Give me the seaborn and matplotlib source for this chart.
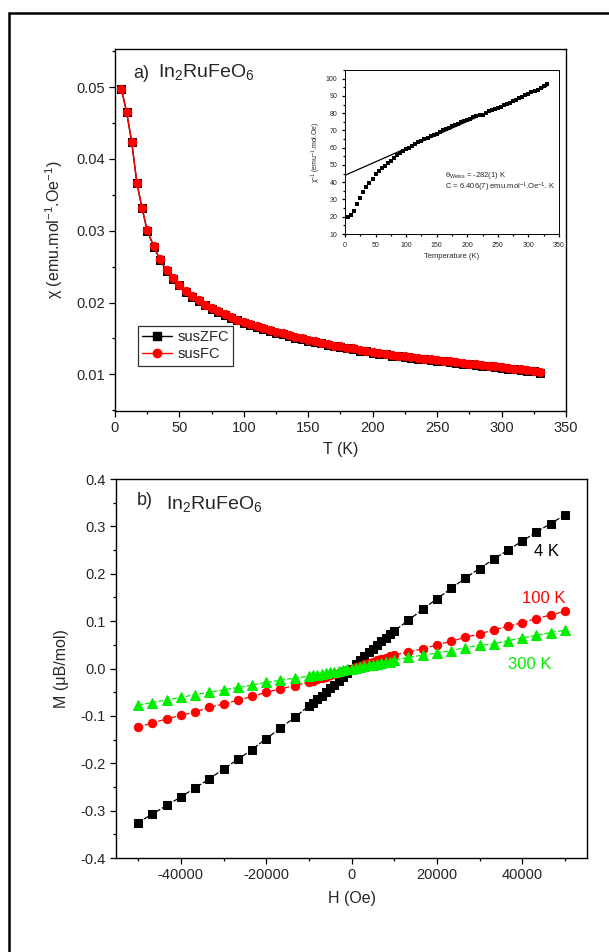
import numpy as np
import pandas as pd
import seaborn as sns
import matplotlib.pyplot as plt
from matplotlib.lines import Line2D
from matplotlib.ticker import MultipleLocator

# panel a) susceptibility vs temperature
temp = [5, 9, 13, 17, 21, 25, 30, 35, 40, 45, 50, 55, 60, 65, 70, 75, 80, 85, 90, 95,
        100, 105, 110, 115, 120, 125, 130, 135, 140, 145, 150, 155, 160, 165, 170, 175,
        180, 185, 190, 195, 200, 205, 210, 215, 220, 225, 230, 235, 240, 245, 250, 255,
        260, 265, 270, 275, 280, 285, 290, 295, 300, 305, 310, 315, 320, 325, 330]
sus_fc = [0.0497, 0.0466, 0.0424, 0.0367, 0.0332, 0.0301, 0.0279, 0.0260, 0.0245, 0.0234,
          0.0225, 0.0216, 0.0209, 0.0203, 0.0197, 0.0192, 0.0188, 0.0184, 0.0180, 0.0176,
          0.0173, 0.0170, 0.0167, 0.0164, 0.0162, 0.0159, 0.0157, 0.0155, 0.0152, 0.0150,
          0.0148, 0.0146, 0.0144, 0.0142, 0.0140, 0.0139, 0.0137, 0.0136, 0.0134, 0.0133,
          0.0131, 0.0130, 0.0129, 0.0127, 0.0126, 0.0125, 0.0124, 0.0123, 0.0122, 0.0121,
          0.0120, 0.0119, 0.0118, 0.0117, 0.0116, 0.0115, 0.0114, 0.0113, 0.0112, 0.0111,
          0.0110, 0.0109, 0.0108, 0.0107, 0.0106, 0.0105, 0.0103]
sus_zfc = [0.0497, 0.0465, 0.0423, 0.0366, 0.0331, 0.0300, 0.0278, 0.0259, 0.0244, 0.0233,
           0.0224, 0.0215, 0.0208, 0.0202, 0.0196, 0.0191, 0.0187, 0.0183, 0.0179, 0.0175,
           0.0172, 0.0169, 0.0166, 0.0163, 0.0161, 0.0158, 0.0156, 0.0154, 0.0151, 0.0149,
           0.0147, 0.0145, 0.0143, 0.0141, 0.0139, 0.0138, 0.0136, 0.0135, 0.0133, 0.0132,
           0.0130, 0.0129, 0.0128, 0.0126, 0.0125, 0.0124, 0.0123, 0.0122, 0.0121, 0.0120,
           0.0119, 0.0118, 0.0117, 0.0116, 0.0115, 0.0114, 0.0113, 0.0112, 0.0111, 0.0110,
           0.0109, 0.0108, 0.0107, 0.0106, 0.0105, 0.0104, 0.0102]

# inset: inverse susceptibility + Curie-Weiss line
inv_temp = [5, 10, 15, 20, 25, 30, 35, 40, 45, 50, 55, 60, 65, 70, 75, 80, 85, 90, 95, 100,
            105, 110, 115, 120, 125, 130, 135, 140, 145, 150, 155, 160, 165, 170, 175, 180,
            185, 190, 195, 200, 205, 210, 215, 220, 225, 230, 235, 240, 245, 250, 255, 260,
            265, 270, 275, 280, 285, 290, 295, 300, 305, 310, 315, 320, 325, 330]
inv_chi = [20.0, 21.0, 23.5, 27.5, 31.0, 34.5, 37.0, 39.5, 42.0, 44.5, 46.5, 48.0, 49.5,
           51.0, 52.5, 54.0, 55.5, 57.0, 58.0, 59.0, 60.0, 61.0, 62.0, 63.0, 64.0, 65.0,
           65.8, 66.5, 67.3, 68.0, 69.0, 70.0, 70.8, 71.5, 72.5, 73.0, 73.8, 74.8, 75.5,
           76.0, 76.8, 77.5, 78.3, 79.0, 78.8, 80.0, 81.0, 81.7, 82.3, 83.0, 83.8, 84.5,
           85.3, 86.0, 87.0, 87.8, 88.5, 89.5, 90.3, 91.0, 92.0, 92.7, 93.5, 94.3, 95.5, 97.0]
fit_temp = [0, 330]
fit_inv = [44.0, 95.5]

# panel b) magnetisation vs field
field = [-50000, -46667, -43333, -40000, -36667, -33333, -30000, -26667, -23333, -20000,
         -16667, -13333, -10000, -9000, -8000, -7000, -6000, -5000, -4000, -3000, -2000,
         -1000, 0, 1000, 2000, 3000, 4000, 5000, 6000, 7000, 8000, 9000, 10000, 13333,
         16667, 20000, 23333, 26667, 30000, 33333, 36667, 40000, 43333, 46667, 50000]
m_4k = [-0.325, -0.307, -0.289, -0.271, -0.252, -0.233, -0.212, -0.192, -0.171, -0.148,
        -0.126, -0.103, -0.079, -0.072, -0.065, -0.058, -0.050, -0.042, -0.034, -0.026,
        -0.017, -0.009, 0.000, 0.009, 0.017, 0.026, 0.034, 0.042, 0.050, 0.058, 0.065,
        0.072, 0.079, 0.102, 0.125, 0.147, 0.169, 0.191, 0.211, 0.231, 0.250, 0.269,
        0.288, 0.306, 0.324]
m_100k = [-0.123, -0.115, -0.106, -0.099, -0.0915, -0.082, -0.0745, -0.067, -0.059, -0.050,
          -0.043, -0.036, -0.029, -0.026, -0.023, -0.020, -0.017, -0.0145, -0.012, -0.009,
          -0.006, -0.003, 0.000, 0.003, 0.006, 0.009, 0.012, 0.0145, 0.017, 0.020, 0.023,
          0.026, 0.029, 0.0347, 0.0417, 0.050, 0.0574, 0.066, 0.073, 0.082, 0.089, 0.097,
          0.1055, 0.113, 0.121]
m_300k = [-0.077, -0.072, -0.066, -0.061, -0.055, -0.050, -0.045, -0.040, -0.035, -0.029,
          -0.025, -0.020, -0.016, -0.0145, -0.013, -0.011, -0.0095, -0.008, -0.0065, -0.005,
          -0.003, -0.0015, 0.000, 0.0015, 0.003, 0.005, 0.0065, 0.008, 0.0095, 0.011, 0.013,
          0.0145, 0.017, 0.024, 0.028, 0.033, 0.038, 0.044, 0.049, 0.052, 0.059, 0.0645,
          0.070, 0.076, 0.081]

sns.set_style('ticks')
plt.rcParams['font.family'] = ['Liberation Sans', 'DejaVu Sans']
plt.rcParams['mathtext.fontset'] = 'custom'
plt.rcParams['mathtext.rm'] = 'Liberation Sans'
plt.rcParams['mathtext.it'] = 'Liberation Sans:italic'
plt.rcParams['mathtext.default'] = 'regular'
plt.rcParams['axes.unicode_minus'] = False

fig = plt.figure(figsize=(6.09, 9.52), dpi=100)
ax1 = fig.add_axes([0.1888, 0.5683, 0.7406, 0.3802])
ax2 = fig.add_axes([0.1905, 0.0987, 0.7734, 0.3981])
ins = fig.add_axes([0.5665, 0.7542, 0.3514, 0.1723])


def style_axes(ax, size=10, major=4, minor=2.5):
    for s in ax.spines.values():
        s.set_visible(True)
        s.set_color('black')
        s.set_linewidth(1.0)
    ax.tick_params(which='both', direction='out', top=False, right=False,
                   labelsize=size, color='black', width=0.9)
    ax.tick_params(which='major', length=major)
    ax.tick_params(which='minor', length=minor)


# a) chi(T)
sns.lineplot(x=temp, y=sus_zfc, ax=ax1, color='black', marker='s', markersize=5.5,
             markeredgecolor='black', linewidth=1.0, sort=False, estimator=None)
sns.lineplot(x=temp, y=sus_fc, ax=ax1, color='red', marker='o', markersize=6,
             markeredgecolor='red', linewidth=1.0, sort=False, estimator=None)
ax1.set_xlim(0, 350)
ax1.set_ylim(0.0049, 0.0553)
ax1.xaxis.set_major_locator(MultipleLocator(50))
ax1.xaxis.set_minor_locator(MultipleLocator(25))
ax1.yaxis.set_major_locator(MultipleLocator(0.01))
ax1.yaxis.set_minor_locator(MultipleLocator(0.005))
ax1.yaxis.set_major_formatter(plt.FormatStrFormatter('%.2f'))
style_axes(ax1, size=10.5)
ax1.set_xlabel('T (K)', fontsize=11.5, labelpad=5)
ax1.set_ylabel('χ (emu.mol$^{-1}$.Oe$^{-1}$)', fontsize=11.5, labelpad=8)
ax1.text(0.04, 0.955, 'a)', transform=ax1.transAxes, fontsize=13, va='top')
ax1.text(0.095, 0.965, 'In$_2$RuFeO$_6$', transform=ax1.transAxes, fontsize=14, va='top')
handles = [Line2D([], [], color='black', marker='s', markersize=5.5, linewidth=1.0),
           Line2D([], [], color='red', marker='o', markersize=6, linewidth=1.0)]
leg = ax1.legend(handles, ['susZFC', 'susFC'], loc='lower left',
                 bbox_to_anchor=(0.035, 0.105), fontsize=10.5, frameon=True,
                 fancybox=False, edgecolor='black', handlelength=2.0,
                 borderpad=0.3, labelspacing=0.2, handletextpad=0.4)
leg.get_frame().set_linewidth(0.9)

# inset
sns.lineplot(x=fit_temp, y=fit_inv, ax=ins, color='black', linewidth=0.9,
             sort=False, estimator=None)
sns.lineplot(x=inv_temp, y=inv_chi, ax=ins, color='black', marker='s', markersize=3,
             linewidth=0, markeredgewidth=0, sort=False, estimator=None)
ins.set_xlim(0, 350)
ins.set_ylim(10, 105)
ins.xaxis.set_major_locator(MultipleLocator(50))
ins.xaxis.set_minor_locator(MultipleLocator(25))
ins.yaxis.set_major_locator(MultipleLocator(10))
ins.yaxis.set_minor_locator(MultipleLocator(5))
style_axes(ins, size=5, major=2, minor=1.2)
for s in ins.spines.values():
    s.set_linewidth(0.7)
ins.set_xlabel('Temperature (K)', fontsize=5.5, labelpad=3)
ins.set_ylabel('χ$^{-1}$ (emu$^{-1}$.mol.Oe)', fontsize=5, labelpad=2)
ins.text(0.465, 0.35, 'θ$_{Weiss}$ = -282(1) K', transform=ins.transAxes, fontsize=5.5)
ins.text(0.465, 0.27, 'C = 6.406(7) emu.mol$^{-1}$.Oe$^{-1}$. K', transform=ins.transAxes,
         fontsize=5.5)

# b) M(H)
sns.lineplot(x=field, y=m_4k, ax=ax2, color='black', marker='s', markersize=5.5,
             markeredgecolor='black', linewidth=0.9, linestyle=(0, (4, 1.5)),
             sort=False, estimator=None)
sns.lineplot(x=field, y=m_100k, ax=ax2, color='red', marker='o', markersize=6,
             markeredgecolor='red', linewidth=0.9, linestyle=(0, (4, 1.5)),
             sort=False, estimator=None)
sns.lineplot(x=field, y=m_300k, ax=ax2, color='#00ee00', marker='^', markersize=6.5,
             markeredgecolor='#00ee00', linewidth=0.9, linestyle=(0, (4, 1.5)),
             sort=False, estimator=None)
ax2.set_xlim(-55200, 55200)
ax2.set_ylim(-0.4, 0.4)
ax2.xaxis.set_major_locator(MultipleLocator(20000))
ax2.xaxis.set_minor_locator(MultipleLocator(10000))
ax2.yaxis.set_major_locator(MultipleLocator(0.1))
ax2.yaxis.set_minor_locator(MultipleLocator(0.05))
ax2.yaxis.set_major_formatter(plt.FormatStrFormatter('%.1f'))
style_axes(ax2, size=10.5)
ax2.set_xlabel('H (Oe)', fontsize=11.5, labelpad=6)
ax2.set_ylabel('M (μB/mol)', fontsize=11.5, labelpad=8)
ax2.text(0.045, 0.965, 'b)', transform=ax2.transAxes, fontsize=13, va='top')
ax2.text(0.107, 0.96, 'In$_2$RuFeO$_6$', transform=ax2.transAxes, fontsize=14, va='top')
ax2.text(0.94, 0.797, '4 K', transform=ax2.transAxes, fontsize=12, ha='right',
         color='black')
ax2.text(0.955, 0.673, '100 K', transform=ax2.transAxes, fontsize=12, ha='right',
         color='red')
ax2.text(0.925, 0.499, '300 K', transform=ax2.transAxes, fontsize=12, ha='right',
         color='#00ee00')

# outer page frame (left and top edges)
fig.add_artist(Line2D([0.0148, 0.0148], [0.0, 0.9865], color='black', linewidth=1.8,
                      transform=fig.transFigure))
fig.add_artist(Line2D([0.0148, 1.0], [0.9865, 0.9865], color='black', linewidth=1.8,
                      transform=fig.transFigure))

fig.savefig('out.png', dpi=100, facecolor='white')
